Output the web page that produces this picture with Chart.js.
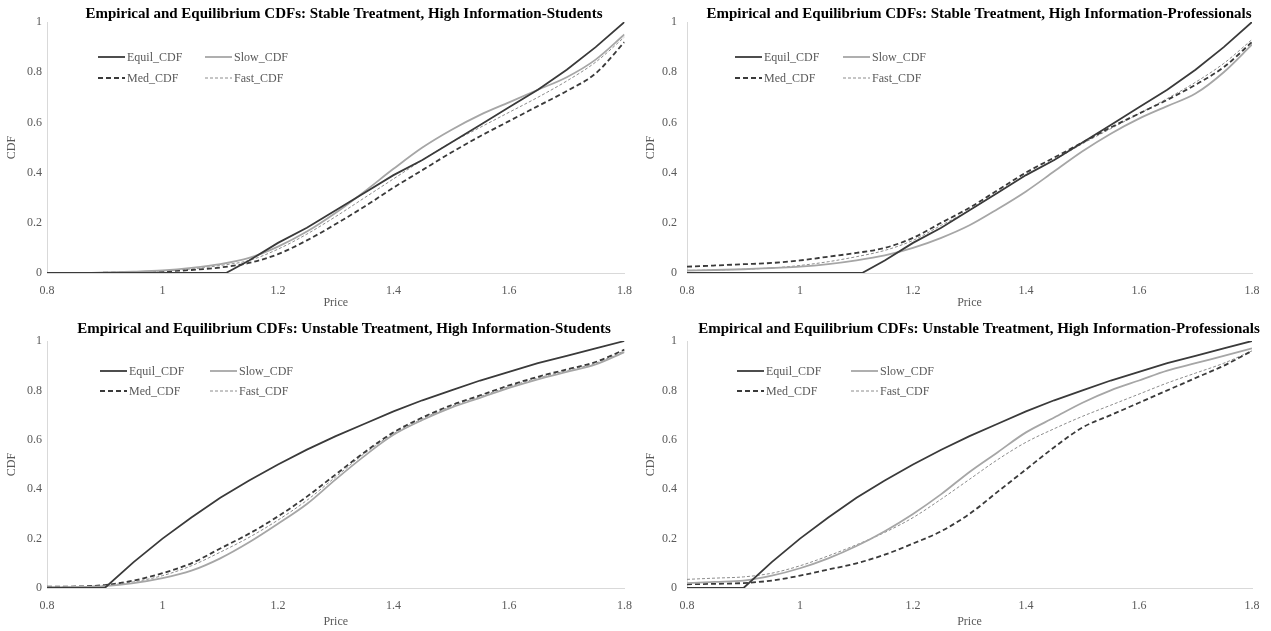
<!DOCTYPE html>
<html>
<head>
<meta charset="utf-8">
<script src="https://cdn.jsdelivr.net/npm/chart.js@4.4.1/dist/chart.umd.min.js"></script>
<style>
body{margin:0;background:#fff;width:1271px;height:631px;overflow:hidden;position:relative}
canvas{position:absolute}
</style>
</head>
<body>
<canvas id="c1" width="643" height="315" style="left:0;top:0"></canvas>
<canvas id="c2" width="636" height="315" style="left:635px;top:0"></canvas>
<canvas id="c3" width="643" height="316" style="left:0;top:315px"></canvas>
<canvas id="c4" width="636" height="316" style="left:635px;top:315px"></canvas>
<script>
// preise (x-achse)
const prices = [0.8,0.85,0.9,0.95,1,1.05,1.1,1.15,1.2,1.25,1.3,1.35,1.4,1.45,1.5,1.55,1.6,1.65,1.7,1.75,1.8];
const stableEquilPrices = [0.8,0.9,1,1.11,1.15,1.2,1.25,1.3,1.35,1.4,1.45,1.5,1.55,1.6,1.65,1.7,1.75,1.8];

// gleichgewichts-CDFs
const stableEquil = [0,0,0,0,0.05,0.12,0.18,0.25,0.32,0.39,0.45,0.52,0.59,0.66,0.73,0.81,0.9,1];
const unstableEquil = [0,0,0,0.105,0.2,0.285,0.365,0.435,0.5,0.56,0.615,0.665,0.715,0.76,0.8,0.84,0.875,0.91,0.94,0.97,1];

// stabil, studenten
const stableStudSlow = [0,0,0.002,0.005,0.01,0.02,0.035,0.06,0.105,0.165,0.24,0.325,0.415,0.5,0.57,0.63,0.68,0.73,0.78,0.85,0.95];
const stableStudMed = [0,0,0.001,0.003,0.006,0.012,0.022,0.04,0.075,0.13,0.195,0.265,0.34,0.41,0.48,0.545,0.605,0.665,0.725,0.795,0.92];
const stableStudFast = [0,0,0.002,0.004,0.008,0.016,0.03,0.05,0.095,0.155,0.225,0.3,0.375,0.45,0.52,0.58,0.64,0.7,0.765,0.84,0.94];

// stabil, profis
const stableProSlow = [0.01,0.012,0.015,0.02,0.025,0.035,0.05,0.07,0.1,0.14,0.19,0.255,0.325,0.405,0.485,0.555,0.615,0.665,0.715,0.8,0.91];
const stableProMed = [0.025,0.03,0.035,0.04,0.05,0.065,0.08,0.1,0.14,0.2,0.26,0.33,0.4,0.46,0.52,0.58,0.635,0.69,0.75,0.82,0.92];
const stableProFast = [0.01,0.012,0.015,0.02,0.03,0.045,0.065,0.09,0.13,0.19,0.25,0.32,0.39,0.45,0.515,0.575,0.635,0.695,0.76,0.835,0.93];

// instabil, studenten
const unstableStudSlow = [0.003,0.004,0.008,0.02,0.04,0.07,0.12,0.185,0.26,0.34,0.44,0.535,0.62,0.68,0.73,0.77,0.81,0.845,0.875,0.905,0.955];
const unstableStudMed = [0.005,0.006,0.012,0.03,0.06,0.1,0.16,0.22,0.29,0.37,0.46,0.55,0.63,0.69,0.74,0.78,0.82,0.855,0.885,0.915,0.965];
const unstableStudFast = [0.004,0.005,0.01,0.025,0.05,0.09,0.145,0.205,0.275,0.355,0.45,0.545,0.625,0.685,0.735,0.775,0.815,0.85,0.88,0.91,0.96];

// instabil, profis
const unstableProSlow = [0.02,0.025,0.03,0.05,0.08,0.12,0.17,0.23,0.3,0.38,0.47,0.55,0.63,0.69,0.75,0.8,0.84,0.88,0.91,0.94,0.97];
const unstableProMed = [0.015,0.017,0.02,0.03,0.05,0.075,0.1,0.135,0.18,0.23,0.3,0.39,0.48,0.57,0.65,0.7,0.75,0.8,0.85,0.9,0.96];
const unstableProFast = [0.035,0.04,0.045,0.06,0.09,0.13,0.175,0.225,0.285,0.36,0.44,0.52,0.59,0.645,0.695,0.74,0.785,0.83,0.87,0.91,0.96];

const seriesNames = ["Equil_CDF","Slow_CDF","Med_CDF","Fast_CDF"];

const FONT = "'Liberation Serif','Times New Roman',serif";
const GREY = "#595959";

function pts(xs, ys){
    return xs.map((x, i) => ({x: x, y: ys[i]}));
}

// titel + legende selbst zeichnen (position wie im original)
const panelDecor = {
    id: "panelDecor",
    afterDraw(chart, args, opts){
        const ctx = chart.ctx;
        const a = chart.chartArea;
        ctx.save();
        // titel
        ctx.font = "bold 15px " + FONT;
        ctx.fillStyle = "#000";
        ctx.textAlign = "center";
        ctx.textBaseline = "middle";
        ctx.fillText(opts.title, opts.titleX, opts.titleY);
        // legende
        ctx.font = "12px " + FONT;
        ctx.textAlign = "left";
        chart.data.datasets.forEach((ds, i) => {
            let x = a.left + opts.cols[i % 2];
            let y = a.top + opts.rows[Math.floor(i / 2)];
            ctx.strokeStyle = ds.borderColor;
            ctx.lineWidth = ds.borderWidth;
            ctx.setLineDash(ds.borderDash || []);
            ctx.beginPath();
            ctx.moveTo(x, y);
            ctx.lineTo(x + 27, y);
            ctx.stroke();
            ctx.setLineDash([]);
            ctx.fillStyle = GREY;
            ctx.fillText(ds.label, x + 29, y + 0.5);
        });
        ctx.restore();
    }
};

function makeChart(id, title, equilX, equil, slow, med, fast, o){
    const ctx = document.getElementById(id).getContext("2d");
    new Chart(ctx, {
        type: "line",
        data: {
            datasets: [
                {label: seriesNames[0], data: pts(equilX, equil), borderColor: "#3a3a3a", borderWidth: 1.8, tension: 0},
                {label: seriesNames[1], data: pts(prices, slow), borderColor: "#a6a6a6", borderWidth: 1.8, cubicInterpolationMode: "monotone"},
                {label: seriesNames[2], data: pts(prices, med), borderColor: "#3a3a3a", borderWidth: 1.8, borderDash: [5, 3], cubicInterpolationMode: "monotone"},
                {label: seriesNames[3], data: pts(prices, fast), borderColor: "#8c8c8c", borderWidth: 1, borderDash: [3, 2], cubicInterpolationMode: "monotone"}
            ]
        },
        options: {
            responsive: false,
            animation: false,
            events: [],
            elements: {point: {radius: 0}},
            layout: {padding: {left: 0, right: o.right, top: o.top, bottom: o.bottom}},
            plugins: {
                legend: {display: false},
                tooltip: {enabled: false},
                title: {display: false},
                panelDecor: {title: title, titleX: 344, titleY: 14, cols: o.cols, rows: o.rows}
            },
            scales: {
                x: {
                    type: "linear",
                    min: 0.8,
                    max: 1.8,
                    ticks: {
                        stepSize: 0.2,
                        color: GREY,
                        font: {family: FONT, size: 12},
                        padding: 11,
                        maxRotation: 0,
                        callback: (v) => String(+v.toFixed(1))
                    },
                    grid: {display: false, drawTicks: false},
                    border: {display: true, color: "#d9d9d9", width: 1},
                    title: {display: true, text: "Price", color: GREY, font: {family: FONT, size: 12}, padding: {top: 0, bottom: 0}},
                    afterFit: (s) => { s.height = o.xh; }
                },
                y: {
                    min: 0,
                    max: 1,
                    ticks: {
                        stepSize: 0.2,
                        color: GREY,
                        font: {family: FONT, size: 12},
                        padding: o.ypad,
                        callback: (v) => String(+v.toFixed(1))
                    },
                    grid: {display: false, drawTicks: false},
                    border: {display: true, color: "#d9d9d9", width: 1},
                    title: {display: true, text: "CDF", color: GREY, font: {family: FONT, size: 12}, padding: {top: o.ytitle, bottom: 0}},
                    afterFit: (s) => { s.width = o.yw; }
                }
            }
        },
        plugins: [panelDecor]
    });
}

makeChart("c1", "Empirical and Equilibrium CDFs: Stable Treatment, High Information-Students",
    stableEquilPrices, stableEquil, stableStudSlow, stableStudMed, stableStudFast,
    {top: 22, right: 11, bottom: 5, yw: 47, xh: 37, ypad: 5, ytitle: 5, cols: [51, 158], rows: [35, 56]});
makeChart("c2", "Empirical and Equilibrium CDFs: Stable Treatment, High Information-Professionals",
    stableEquilPrices, stableEquil, stableProSlow, stableProMed, stableProFast,
    {top: 22, right: 19, bottom: 5, yw: 52, xh: 37, ypad: 10, ytitle: 9, cols: [48, 156], rows: [35, 56]});
makeChart("c3", "Empirical and Equilibrium CDFs: Unstable Treatment, High Information-Students",
    prices, unstableEquil, unstableStudSlow, unstableStudMed, unstableStudFast,
    {top: 26, right: 11, bottom: 2, yw: 47, xh: 41, ypad: 5, ytitle: 5, cols: [53, 163], rows: [30, 50]});
makeChart("c4", "Empirical and Equilibrium CDFs: Unstable Treatment, High Information-Professionals",
    prices, unstableEquil, unstableProSlow, unstableProMed, unstableProFast,
    {top: 26, right: 19, bottom: 2, yw: 52, xh: 41, ypad: 10, ytitle: 9, cols: [50, 164], rows: [30, 50]});
</script>
</body>
</html>
